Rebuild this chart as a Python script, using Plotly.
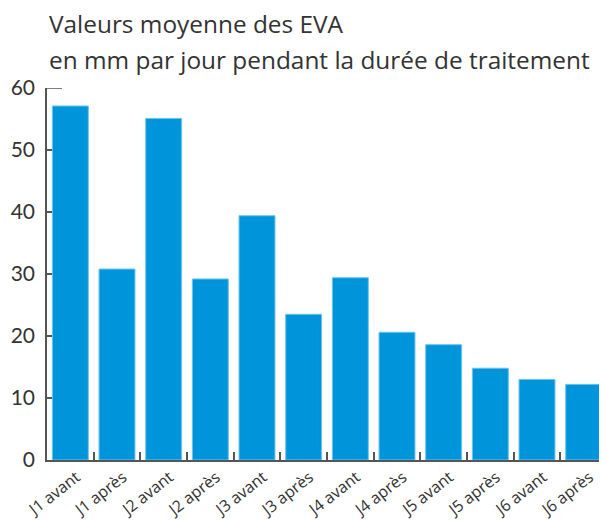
import plotly.graph_objects as go

categories = ["J1 avant", "J1 après", "J2 avant", "J2 après", "J3 avant", "J3 après",
              "J4 avant", "J4 après", "J5 avant", "J5 après", "J6 avant", "J6 après"]
values = [57.1, 30.8, 55.1, 29.2, 39.4, 23.5, 29.4, 20.6, 18.6, 14.8, 13.0, 12.2]
y_ticks = [0, 10, 20, 30, 40, 50, 60]
title_line1 = "Valeurs moyenne des EVA"
title_line2 = "en mm par jour pendant la durée de traitement"

BAR = "#0095DA"
AXIS = "#555555"
TXT = "#333333"

fig = go.Figure(go.Bar(
    x=categories, y=values,
    marker=dict(color=BAR, line=dict(color="#6cc4ee", width=1)),
    hoverinfo="x+y",
))

fig.update_layout(
    width=599, height=513,
    margin=dict(l=39, r=0, t=80, b=61),
    paper_bgcolor="white", plot_bgcolor="white",
    bargap=0.23,
    showlegend=False,
    font=dict(family="Open Sans, sans-serif", color=TXT),
)

fig.update_xaxes(
    range=[-0.5, 11.5],
    showline=True, linecolor=AXIS, linewidth=1.5,
    ticks="inside", tickson="boundaries", ticklen=8, tickwidth=1.5, tickcolor=AXIS,
    tickangle=-38, tickfont=dict(size=16, color=TXT, family="Open Sans, sans-serif"),
    ticklabelshift=6,
    showgrid=False, zeroline=False,
)
fig.update_yaxes(
    range=[0, 60], tickvals=y_ticks,
    showline=True, linecolor=AXIS, linewidth=1.5,
    ticks="inside", ticklen=5, tickwidth=1.5, tickcolor=AXIS,
    tickfont=dict(size=21, color=TXT, family="Lato, sans-serif"),
    ticklabelstandoff=6,
    showgrid=False, zeroline=False,
)

# longer top tick mark at 60
fig.add_shape(type="line", xref="paper", yref="y", x0=0, x1=15 / 560, y0=60, y1=60,
              line=dict(color=AXIS, width=1.5))

fig.add_annotation(text=title_line1, xref="paper", yref="paper", x=0, y=1,
                   xanchor="left", yanchor="middle", showarrow=False, xshift=0, yshift=64.7,
                   font=dict(size=24.4, color=TXT, family="Open Sans, sans-serif"))
fig.add_annotation(text=title_line2, xref="paper", yref="paper", x=0, y=1,
                   xanchor="left", yanchor="middle", showarrow=False, xshift=0, yshift=28.1,
                   font=dict(size=24.4, color=TXT, family="Open Sans, sans-serif"))

fig.write_html("out.html")
